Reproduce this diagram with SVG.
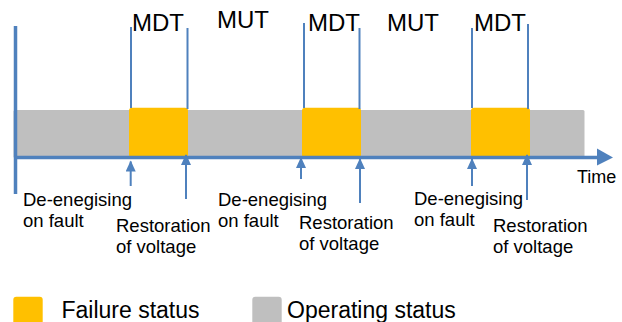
<svg xmlns="http://www.w3.org/2000/svg" width="622" height="322" viewBox="0 0 622 322">
<style>
.big{font-family:"Liberation Sans",Arial,sans-serif;font-size:24px;fill:#000}
.lbl{font-family:"Liberation Sans",Arial,sans-serif;font-size:18.5px;fill:#000}
.leg{font-family:"Liberation Sans",Arial,sans-serif;font-size:23px;fill:#000}
.fail{fill:#FFC000}
.op{fill:#BFBFBF}
.tick{stroke:#4F81BD;stroke-width:2;fill:none}
.arr{stroke:#4F81BD;stroke-width:2;fill:none;marker-end:url(#ah)}
</style>
<defs>
<marker id="ah" markerUnits="userSpaceOnUse" markerWidth="12" markerHeight="10" refX="10" refY="5" orient="auto" viewBox="0 0 12 10">
<path d="M0,0 L11,5 L0,10 Z" fill="#4F81BD"/>
</marker>
</defs>
<rect id="background" width="622" height="322" fill="#fff"/>
<g id="operating-bar">
<rect class="op" x="13.5" y="110" width="571" height="48" rx="1.5"/>
</g>
<g id="failure-1"><rect class="fail" x="129" y="107.7" width="59" height="50" rx="3"/></g>
<g id="failure-2"><rect class="fail" x="302" y="107.7" width="59" height="50" rx="3"/></g>
<g id="failure-3"><rect class="fail" x="471" y="107.7" width="59" height="50" rx="3"/></g>
<g id="axis">
<line x1="15.5" y1="26" x2="15.5" y2="194" stroke="#4F81BD" stroke-width="3.5"/>
<line x1="14" y1="157.5" x2="600" y2="157.5" stroke="#4F81BD" stroke-width="3.5"/>
<polygon points="597,148.5 613,157.5 597,165.5" fill="#4F81BD"/>
<text class="lbl" x="577" y="182.5" style="font-size:18px">Time</text>
</g>
<g id="ticks">
<line class="tick" x1="131" y1="27" x2="131" y2="108"/>
<line class="tick" x1="187.5" y1="28" x2="187.5" y2="109"/>
<line class="tick" x1="304" y1="23" x2="304" y2="108"/>
<line class="tick" x1="359.5" y1="28" x2="359.5" y2="109"/>
<line class="tick" x1="472" y1="28" x2="472" y2="108"/>
<line class="tick" x1="528" y1="24" x2="528" y2="109"/>
</g>
<g id="period-labels">
<text class="big" x="132" y="31">MDT</text>
<text class="big" x="217" y="28">MUT</text>
<text class="big" x="308" y="31">MDT</text>
<text class="big" x="387" y="31">MUT</text>
<text class="big" x="474" y="31">MDT</text>
</g>
<g id="connectors">
<line class="arr" x1="130.7" y1="186" x2="130.7" y2="161.5"/>
<line class="arr" x1="186" y1="199" x2="186" y2="155"/>
<line class="arr" x1="301" y1="179" x2="301" y2="158"/>
<line class="arr" x1="360" y1="203" x2="360" y2="159"/>
<line class="arr" x1="472" y1="186" x2="472" y2="159"/>
<line class="arr" x1="527" y1="200" x2="527" y2="155"/>
</g>
<g id="event-labels">
<text class="lbl" x="23" y="206">De-enegising<tspan x="23" y="227">on fault</tspan></text>
<text class="lbl" x="116" y="232">Restoration<tspan x="116" y="253">of voltage</tspan></text>
<text class="lbl" x="218" y="206">De-enegising<tspan x="218" y="227">on fault</tspan></text>
<text class="lbl" x="299" y="229">Restoration<tspan x="299" y="250">of voltage</tspan></text>
<text class="lbl" x="414" y="205">De-enegising<tspan x="414" y="226">on fault</tspan></text>
<text class="lbl" x="493" y="232">Restoration<tspan x="493" y="253">of voltage</tspan></text>
</g>
<g id="legend-failure">
<rect class="fail" x="13.3" y="296.7" width="29.4" height="30" rx="3"/>
<text class="leg" x="61.5" y="318.3">Failure status</text>
</g>
<g id="legend-operating">
<rect class="op" x="252.3" y="296.7" width="29.4" height="30" rx="3"/>
<text class="leg" x="287" y="318.3">Operating status</text>
</g>
</svg>
